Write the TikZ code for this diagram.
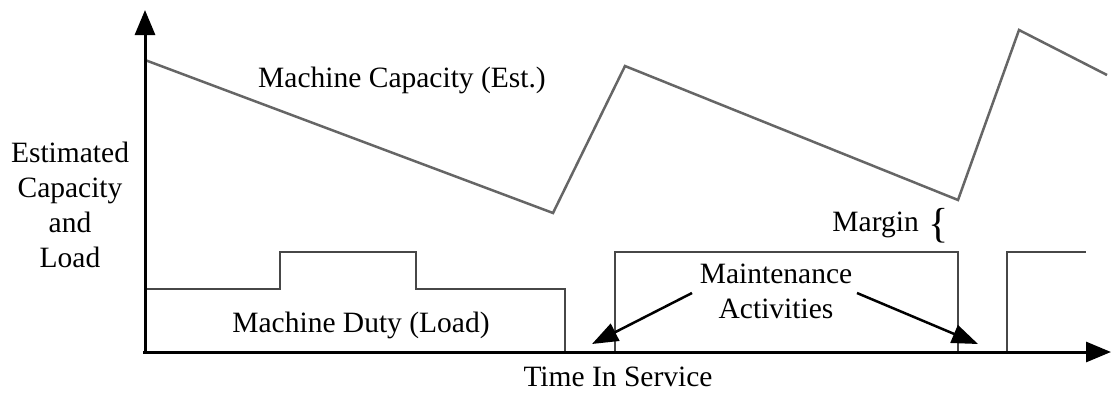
\documentclass[tikz,border=0pt]{standalone}
\usepackage{fontspec}
\setmainfont{Liberation Serif}
\usetikzlibrary{arrows.meta}
\begin{document}
\begin{tikzpicture}[x=1pt,y=-1pt,
  axis/.style={line width=3pt,black,-{Triangle[length=25pt,width=20pt]}},
  capline/.style={line width=2.5pt,draw=black!60,line join=miter},
  loadline/.style={line width=2.5pt,draw=black!72,line join=miter},
  lbl/.style={font=\fontsize{29.5}{35}\selectfont,inner sep=0pt,align=center},
  pointer/.style={line width=2.5pt,black,-{Triangle[length=26pt,width=19pt]}}]
\useasboundingbox (0,0) rectangle (1112,394);
% axes
\coordinate (O) at (145,352);
\coordinate (ytop) at (145,10);
\coordinate (xend) at (1111,352);
% capacity
\draw[capline] (145,60) -- (553,213) -- (625,66) -- (958,200) -- (1019,30) -- (1107,75);
% load
\draw[loadline] (145,289) -- (280,289) -- (280,252) -- (416,252) -- (416,289) -- (565,289) -- (565,352);
\draw[loadline] (615,352) -- (615,252) -- (958,252) -- (958,352);
\draw[loadline] (1007,352) -- (1007,252) -- (1086,252);
\draw[axis] (145,351) -- (ytop);
\draw[axis] (143,352) -- (xend);
% labels
\node[lbl] (cap) at (402,80) {Machine Capacity (Est.)};
\node[lbl] (duty) at (361,325) {Machine Duty (Load)};
\node[lbl,anchor=base] (time) at (618,386) {Time In Service};
\node[lbl] (ylab) at (70,205) {Estimated\\Capacity\\and\\Load};
\node[lbl] (maint) at (776,291) {Maintenance\\Activities};
\node[lbl,anchor=east] (margin) at (919,225) {Margin};
\node[inner sep=0pt] (brace) at (939,226) {\fontsize{42}{44}\selectfont\{};
% pointers
\coordinate (tipL) at (592,344);
\coordinate (tipR) at (978,344);
\draw[pointer] (692,293) -- (tipL);
\draw[pointer] (857,293) -- (tipR);
\end{tikzpicture}
\end{document}
